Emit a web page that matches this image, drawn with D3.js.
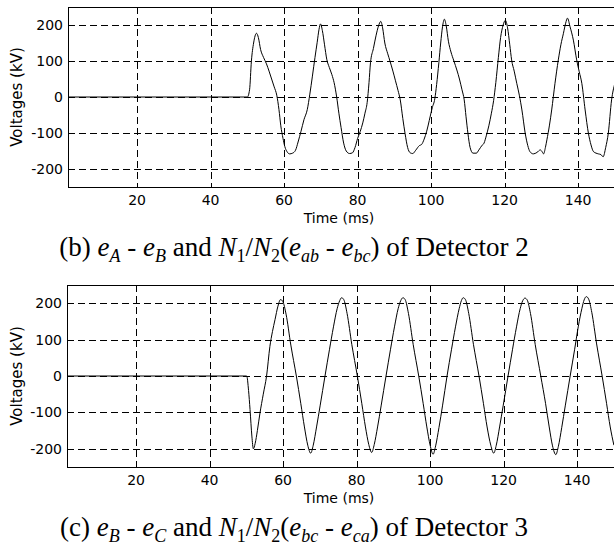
<!DOCTYPE html>
<html>
<head>
<meta charset="utf-8">
<script src="https://cdn.jsdelivr.net/npm/d3@7"></script>
<style>
  html, body { margin: 0; padding: 0; background: #fff; }
  svg { display: block; }
  .tick-label { font-family: "DejaVu Sans", sans-serif; font-size: 14px; fill: #000; }
  .axis-title { font-family: "DejaVu Sans", sans-serif; font-size: 14px; fill: #000; }
  .caption { font-family: "Liberation Serif", "Times New Roman", serif; font-size: 27px; fill: #000; }
</style>
</head>
<body>
<svg id="fig" width="614" height="554"></svg>
<script>
// Axis ticks shared by both panels
const timeTicks = [20, 40, 60, 80, 100, 120, 140];
const voltTicks = [-200, -100, 0, 100, 200];
const timeDomain = [1.2, 150.3];
const voltDomain = [-250, 250];

// Detector 2: e_A - e_B (ms, kV)
const det2Time = [
  1.2, 50.0, 50.6, 51.1, 51.7, 52.5, 53.0, 53.6, 54.4, 55.2, 55.9, 56.6, 57.3, 58.0, 58.6, 59.1, 59.7, 60.2, 60.8, 61.5,
  62.3, 63.1, 63.8, 64.6, 65.4, 66.3, 67.0, 67.7, 68.4, 69.0, 69.5, 69.9,
  70.4, 71.0, 71.6, 72.3, 73.0, 73.6, 74.3, 74.9, 75.5, 76.2, 76.9, 77.8, 78.6, 79.3, 80.0, 80.7, 81.4, 82.0, 82.6,
  83.1, 83.5, 84.3, 85.0, 85.7, 86.3,
  86.8, 87.4, 88.2, 88.8, 89.6, 90.3, 91.0, 91.6, 92.3, 92.9, 93.6, 94.3, 95.0, 95.8, 96.8, 97.4, 98.1, 98.8, 99.5,
  100.3, 101.0, 101.5, 102.1, 102.6, 103.1, 103.6,
  104.1, 104.7, 105.4, 106.2, 107.0, 107.7, 108.4, 109.0, 109.5, 110.0, 110.6, 111.4, 112.3, 113.0, 113.8, 114.4,
  115.0, 115.7, 116.4, 117.0, 117.6, 118.3, 118.9, 119.6, 120.2,
  120.8, 121.4, 121.9, 122.6, 123.3, 124.0, 124.7, 125.6, 126.3, 126.9, 127.8, 128.8, 129.7, 130.2, 130.6, 131.1,
  131.5, 132.2, 132.8, 133.7, 134.6, 135.3, 136.0, 136.6, 137.1,
  137.8, 138.7, 139.6, 140.3, 141.0, 141.9, 142.8, 143.5, 144.2, 145.5, 146.2, 146.8, 147.5, 148.2, 149.1, 150.0
];
const det2Volt = [
  0, 0, 20, 100, 150, 177, 165, 132, 110, 92, 72, 50, 28, 5, -35, -80, -115, -138, -152, -158,
  -156, -148, -125, -95, -63, -35, 8, 58, 110, 152, 188, 203,
  185, 145, 105, 82, 62, 40, 0, -45, -85, -128, -150, -157, -155, -140, -115, -96, -72, -45, -15,
  40, 95, 135, 170, 198, 210,
  192, 150, 120, 100, 72, 45, 18, -8, -60, -101, -140, -155, -157, -148, -135, -132, -117, -95, -65,
  -30, -5, 35, 95, 150, 195, 216,
  198, 155, 125, 100, 75, 50, 20, -8, -55, -100, -140, -156, -156, -147, -135, -128,
  -108, -80, -45, -10, 40, 110, 165, 200, 213,
  192, 145, 103, 72, 38, 5, -36, -101, -135, -152, -158, -154, -147, -152, -158, -140,
  -119, -78, -36, 38, 103, 145, 177, 205, 219,
  195, 158, 103, 70, 38, -36, -101, -133, -152, -158, -160, -166, -140, -101, -8, 38
];

// Detector 3: e_B - e_C (ms, kV)
const det3Time = [
  1.2, 50.1, 50.6, 51.0, 51.5, 51.9, 52.4, 53.0, 53.7, 54.6, 55.5, 56.4, 57.1, 57.8, 58.6, 59.3,
  59.9, 60.8, 62.1, 63.6, 64.8, 65.8, 66.7, 67.5,
  68.2, 69.1, 70.1, 71.4, 72.6, 73.7, 74.7, 75.4, 75.9,
  76.5, 77.4, 78.7, 80.2, 81.4, 82.4, 83.3, 84.1,
  84.8, 85.7, 86.7, 88.0, 89.2, 90.3, 91.3, 92.0, 92.6,
  93.2, 94.1, 95.4, 96.9, 98.1, 99.1, 100.0, 100.8,
  101.5, 102.4, 103.4, 104.6, 105.8, 106.9, 107.9, 108.5, 109.0,
  109.6, 110.5, 111.8, 113.3, 114.5, 115.5, 116.5, 117.3,
  118.0, 118.9, 119.9, 121.2, 122.4, 123.5, 124.5, 125.2, 125.8,
  126.4, 127.3, 128.6, 130.1, 131.4, 132.4, 133.3, 134.2,
  134.9, 135.8, 136.8, 138.1, 139.3, 140.3, 141.3, 141.9, 142.5,
  143.1, 144.0, 145.3, 146.8, 148.0, 149.0, 150.0
];
const det3Volt = [
  0, 0, -40, -92, -165, -200, -185, -150, -102, -50, 0, 81, 122, 155, 192, 210,
  205, 170, 85, 0, -75, -140, -190, -212,
  -190, -140, -80, 0, 72, 135, 185, 207, 215,
  210, 172, 86, 0, -75, -140, -188, -210,
  -188, -140, -80, 0, 72, 135, 185, 207, 215,
  210, 172, 86, 0, -75, -140, -190, -215,
  -192, -142, -80, 0, 72, 135, 185, 207, 215,
  210, 172, 86, 0, -75, -140, -190, -212,
  -190, -140, -80, 0, 72, 135, 185, 207, 214,
  209, 172, 86, 0, -75, -140, -192, -216,
  -193, -142, -80, 0, 72, 135, 186, 209, 218,
  212, 174, 88, 0, -75, -140, -190
];

const svg = d3.select("#fig");

// Panel frames in page pixels
const panels = [
  {
    left: 68, right: 616, top: 7, bottom: 187,
    times: det2Time, volts: det2Volt,
    tickY: 205, titleY: 223, captionY: 256, captionX: 294,
    caption: [
      ["(b) ", ""], ["e", "i"], ["A", "si"], [" - ", ""], ["e", "i"], ["B", "si"],
      [" and ", ""], ["N", "i"], ["1", "s"], ["/", ""], ["N", "i"], ["2", "s"],
      ["(", ""], ["e", "i"], ["ab", "si"], [" - ", ""], ["e", "i"], ["bc", "si"], [")", ""],
      [" of Detector 2", ""]
    ]
  },
  {
    left: 67, right: 615, top: 285, bottom: 467,
    times: det3Time, volts: det3Volt,
    tickY: 485, titleY: 503, captionY: 536, captionX: 294,
    caption: [
      ["(c) ", ""], ["e", "i"], ["B", "si"], [" - ", ""], ["e", "i"], ["C", "si"],
      [" and ", ""], ["N", "i"], ["1", "s"], ["/", ""], ["N", "i"], ["2", "s"],
      ["(", ""], ["e", "i"], ["bc", "si"], [" - ", ""], ["e", "i"], ["ca", "si"], [")", ""],
      [" of Detector 3", ""]
    ]
  }
];

panels.forEach(p => {
  const x = d3.scaleLinear().domain(timeDomain).range([p.left, p.right]);
  const y = d3.scaleLinear().domain(voltDomain).range([p.bottom, p.top]);
  const g = svg.append("g");

  // dashed grid
  g.append("g").selectAll("line.vg").data(timeTicks).join("line")
    .attr("x1", d => Math.round(x(d)) + 0.5).attr("x2", d => Math.round(x(d)) + 0.5)
    .attr("y1", p.top).attr("y2", p.bottom)
    .attr("stroke", "#000").attr("stroke-width", 1).attr("stroke-dasharray", "7,4");
  g.append("g").selectAll("line.hg").data(voltTicks).join("line")
    .attr("x1", p.left).attr("x2", p.right)
    .attr("y1", d => Math.round(y(d)) + 0.5).attr("y2", d => Math.round(y(d)) + 0.5)
    .attr("stroke", "#000").attr("stroke-width", 1).attr("stroke-dasharray", "7,4");

  // signal trace
  const line = d3.line()
    .x((d, i) => x(p.times[i]))
    .y(d => y(d))
    .curve(d3.curveMonotoneX);
  g.append("path")
    .attr("d", line(p.volts))
    .attr("fill", "none")
    .attr("stroke", "#000")
    .attr("stroke-width", 1)
    .attr("stroke-linejoin", "round");

  // axes box
  g.append("rect")
    .attr("x", p.left + 0.5).attr("y", p.top + 0.5)
    .attr("width", p.right - p.left).attr("height", p.bottom - p.top)
    .attr("fill", "none").attr("stroke", "#000").attr("stroke-width", 1);

  // tick labels
  g.append("g").selectAll("text").data(voltTicks).join("text")
    .attr("class", "tick-label")
    .attr("x", p.left - 5)
    .attr("y", d => y(d))
    .attr("dy", "0.36em")
    .attr("text-anchor", "end")
    .text(d => d);
  g.append("g").selectAll("text").data(timeTicks).join("text")
    .attr("class", "tick-label")
    .attr("x", d => x(d))
    .attr("y", p.tickY)
    .attr("text-anchor", "middle")
    .text(d => d);

  // axis titles
  g.append("text").attr("class", "axis-title")
    .attr("x", 339).attr("y", p.titleY)
    .attr("text-anchor", "middle")
    .text("Time (ms)");
  g.append("text").attr("class", "axis-title")
    .style("font-size", "15px")
    .attr("transform", `translate(22,${(p.top + p.bottom) / 2}) rotate(-90)`)
    .attr("text-anchor", "middle")
    .text("Voltages (kV)");

  // caption with italic symbols and subscripts
  const cap = svg.append("text").attr("class", "caption")
    .attr("x", p.captionX).attr("y", p.captionY)
    .attr("text-anchor", "middle");
  let low = false;
  p.caption.forEach(([str, kind]) => {
    const t = cap.append("tspan").text(str);
    const sub = kind.includes("s");
    if (kind.includes("i")) t.attr("font-style", "italic");
    if (sub && !low) { t.attr("dy", 6); low = true; }
    else if (!sub && low) { t.attr("dy", -6); low = false; }
    if (sub) t.attr("font-size", "18px");
  });
});
</script>
</body>
</html>
